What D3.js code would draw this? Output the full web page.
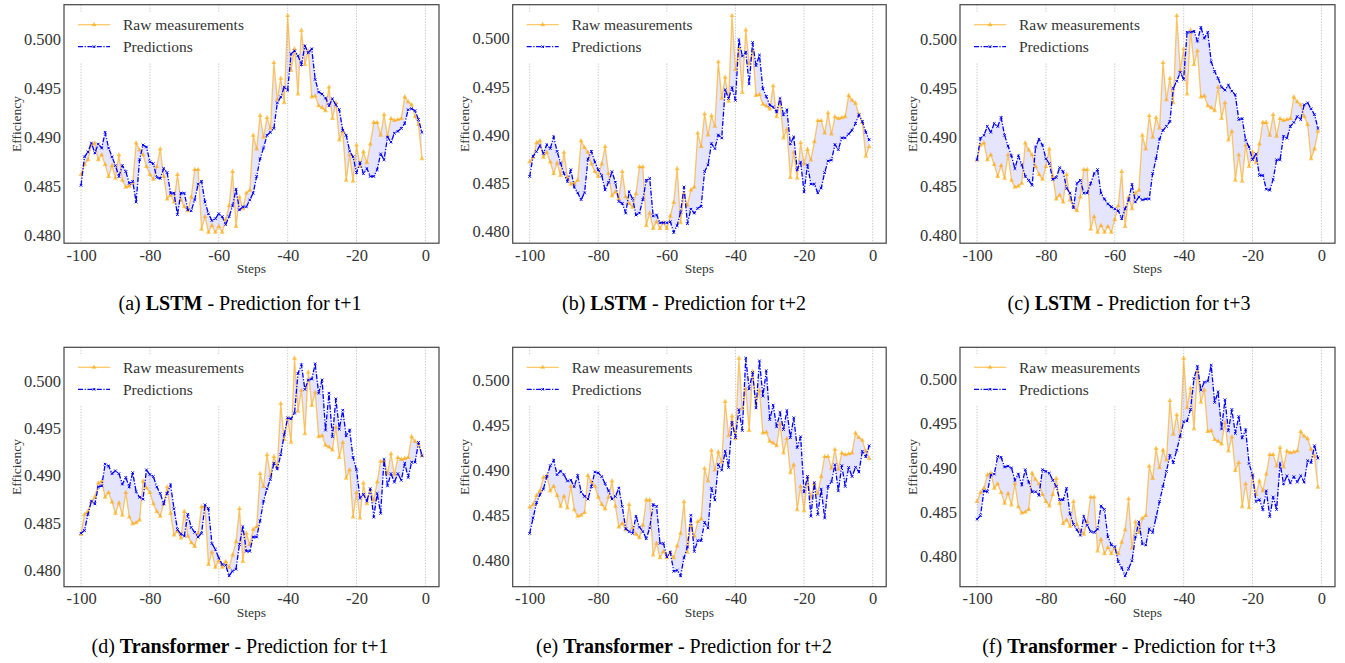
<!DOCTYPE html>
<html><head><meta charset="utf-8">
<script src="https://cdn.jsdelivr.net/npm/d3@7"></script>
<style>
body{margin:0;background:#fff}
svg{display:block}
text{font-family:"Liberation Serif","Times New Roman",serif}
</style>
</head><body>
<svg id="chart" width="1345" height="663"></svg>
<script>
// ---------------- DATA ----------------
const steps = d3.range(-100, 0);          // -100 .. -1
const rawTimes = d3.range(-102, 2);       // -102 .. 1
const rawSeries = [
  0.4838, 0.4859,
  0.4862, 0.4872, 0.4877, 0.4892, 0.4894, 0.4877, 0.4882, 0.4872, 0.4860, 0.4871,
  0.4858, 0.4882, 0.4856, 0.4849, 0.4850, 0.4853, 0.4894, 0.4887, 0.4882, 0.4870,
  0.4862, 0.4857, 0.4870, 0.4888, 0.4860, 0.4837, 0.4841, 0.4834, 0.4862, 0.4836,
  0.4829, 0.4825, 0.4839, 0.4867, 0.4867, 0.4806, 0.4819, 0.4803, 0.4810, 0.4803,
  0.4809, 0.4803, 0.4816, 0.4830, 0.4865, 0.4809, 0.4839, 0.4827, 0.4843, 0.4846,
  0.4902, 0.4888, 0.4922, 0.4900, 0.4920, 0.4909, 0.4976, 0.4938, 0.4960, 0.4935,
  0.5024, 0.4968, 0.4990, 0.4944, 0.5009, 0.4974, 0.4988, 0.4941, 0.4942, 0.4932,
  0.4930, 0.4927, 0.4951, 0.4919, 0.4935, 0.4897, 0.4906, 0.4856, 0.4882, 0.4855,
  0.4892, 0.4870, 0.4885, 0.4874, 0.4893, 0.4915, 0.4915, 0.4902, 0.4923, 0.4901,
  0.4919, 0.4917, 0.4918, 0.4919, 0.4941, 0.4936, 0.4933, 0.4921, 0.4913, 0.4878,
  0.4888, 0.4906
];
const predLSTM1 = [
  0.4851, 0.4880, 0.4885, 0.4894, 0.4884, 0.4893, 0.4889, 0.4905, 0.4889, 0.4880,
  0.4871, 0.4860, 0.4871, 0.4865, 0.4853, 0.4855, 0.4834, 0.4877, 0.4892, 0.4890,
  0.4875, 0.4873, 0.4859, 0.4858, 0.4868, 0.4864, 0.4843, 0.4843, 0.4821, 0.4843,
  0.4843, 0.4826, 0.4825, 0.4836, 0.4852, 0.4855, 0.4834, 0.4822, 0.4815, 0.4817,
  0.4822, 0.4819, 0.4811, 0.4819, 0.4830, 0.4847, 0.4826, 0.4829, 0.4829, 0.4836,
  0.4843, 0.4860, 0.4878, 0.4889, 0.4902, 0.4905, 0.4909, 0.4935, 0.4941, 0.4951,
  0.4948, 0.4985, 0.4988, 0.4983, 0.4974, 0.4993, 0.4986, 0.4990, 0.4959, 0.4946,
  0.4944, 0.4940, 0.4932, 0.4939, 0.4933, 0.4928, 0.4907, 0.4902, 0.4886, 0.4880,
  0.4864, 0.4874, 0.4863, 0.4868, 0.4860, 0.4860, 0.4867, 0.4883, 0.4877, 0.4900,
  0.4895, 0.4904, 0.4906, 0.4909, 0.4914, 0.4928, 0.4929, 0.4927, 0.4918, 0.4905
];
const predLSTM2 = [
  0.4857, 0.4878, 0.4883, 0.4889, 0.4881, 0.4890, 0.4886, 0.4898, 0.4883, 0.4871,
  0.4860, 0.4852, 0.4864, 0.4846, 0.4840, 0.4833, 0.4840, 0.4875, 0.4883, 0.4872,
  0.4864, 0.4858, 0.4843, 0.4851, 0.4862, 0.4851, 0.4831, 0.4829, 0.4819, 0.4841,
  0.4834, 0.4817, 0.4819, 0.4833, 0.4853, 0.4855, 0.4816, 0.4817, 0.4809, 0.4809,
  0.4809, 0.4810, 0.4799, 0.4806, 0.4820, 0.4846, 0.4808, 0.4823, 0.4819, 0.4824,
  0.4826, 0.4862, 0.4869, 0.4891, 0.4886, 0.4900, 0.4897, 0.4947, 0.4938, 0.4949,
  0.4936, 0.4999, 0.4982, 0.4986, 0.4953, 0.4996, 0.4972, 0.4983, 0.4948, 0.4940,
  0.4931, 0.4929, 0.4924, 0.4938, 0.4921, 0.4926, 0.4891, 0.4898, 0.4864, 0.4872,
  0.4841, 0.4869, 0.4849, 0.4849, 0.4840, 0.4845, 0.4861, 0.4873, 0.4874, 0.4890,
  0.4885, 0.4897, 0.4897, 0.4901, 0.4905, 0.4912, 0.4921, 0.4914, 0.4903, 0.4895
];
const predLSTM3 = [
  0.4877, 0.4899, 0.4902, 0.4911, 0.4905, 0.4914, 0.4911, 0.4920, 0.4902, 0.4891,
  0.4881, 0.4868, 0.4881, 0.4872, 0.4860, 0.4856, 0.4851, 0.4890, 0.4898, 0.4892,
  0.4878, 0.4873, 0.4857, 0.4859, 0.4869, 0.4865, 0.4848, 0.4843, 0.4828, 0.4853,
  0.4856, 0.4843, 0.4843, 0.4853, 0.4863, 0.4867, 0.4843, 0.4837, 0.4832, 0.4829,
  0.4827, 0.4825, 0.4817, 0.4827, 0.4836, 0.4852, 0.4834, 0.4839, 0.4836, 0.4837,
  0.4837, 0.4863, 0.4878, 0.4898, 0.4907, 0.4911, 0.4916, 0.4950, 0.4957, 0.4966,
  0.4959, 0.5007, 0.5007, 0.5008, 0.4998, 0.5012, 0.5001, 0.5007, 0.4977, 0.4967,
  0.4960, 0.4951, 0.4948, 0.4953, 0.4947, 0.4943, 0.4918, 0.4919, 0.4897, 0.4890,
  0.4877, 0.4883, 0.4861, 0.4861, 0.4847, 0.4846, 0.4857, 0.4877, 0.4877, 0.4901,
  0.4899, 0.4911, 0.4915, 0.4921, 0.4918, 0.4933, 0.4935, 0.4929, 0.4923, 0.4909
];
const predTrans1 = [
  0.4839, 0.4842, 0.4859, 0.4873, 0.4870, 0.4888, 0.4889, 0.4912, 0.4910, 0.4902,
  0.4905, 0.4902, 0.4891, 0.4898, 0.4888, 0.4903, 0.4883, 0.4877, 0.4875, 0.4906,
  0.4901, 0.4899, 0.4888, 0.4881, 0.4870, 0.4881, 0.4890, 0.4865, 0.4843, 0.4838,
  0.4836, 0.4859, 0.4845, 0.4840, 0.4835, 0.4839, 0.4869, 0.4865, 0.4828, 0.4822,
  0.4813, 0.4806, 0.4805, 0.4794, 0.4799, 0.4801, 0.4827, 0.4846, 0.4820, 0.4820,
  0.4835, 0.4835, 0.4852, 0.4873, 0.4886, 0.4896, 0.4913, 0.4907, 0.4922, 0.4943,
  0.4961, 0.4960, 0.4966, 0.5008, 0.5017, 0.4991, 0.5001, 0.5002, 0.5018, 0.4987,
  0.5001, 0.4948, 0.4987, 0.4941, 0.4981, 0.4949, 0.4969, 0.4942, 0.4948, 0.4919,
  0.4906, 0.4876, 0.4880, 0.4873, 0.4886, 0.4856, 0.4881, 0.4860, 0.4917, 0.4889,
  0.4902, 0.4893, 0.4902, 0.4895, 0.4913, 0.4898, 0.4914, 0.4914, 0.4935, 0.4921
];
const predTrans2 = [
  0.4830, 0.4847, 0.4864, 0.4873, 0.4879, 0.4893, 0.4905, 0.4911, 0.4895, 0.4899,
  0.4895, 0.4888, 0.4889, 0.4882, 0.4894, 0.4876, 0.4871, 0.4868, 0.4882, 0.4898,
  0.4897, 0.4893, 0.4885, 0.4877, 0.4868, 0.4871, 0.4880, 0.4860, 0.4835, 0.4832,
  0.4830, 0.4849, 0.4837, 0.4832, 0.4824, 0.4836, 0.4862, 0.4860, 0.4819, 0.4819,
  0.4804, 0.4809, 0.4788, 0.4789, 0.4783, 0.4803, 0.4815, 0.4850, 0.4810, 0.4822,
  0.4822, 0.4842, 0.4836, 0.4880, 0.4867, 0.4906, 0.4900, 0.4921, 0.4903, 0.4953,
  0.4936, 0.4967, 0.4944, 0.5024, 0.4990, 0.5008, 0.4969, 0.5021, 0.4982, 0.5010,
  0.4956, 0.4972, 0.4948, 0.4964, 0.4945, 0.4966, 0.4936, 0.4958, 0.4925, 0.4937,
  0.4876, 0.4893, 0.4849, 0.4886, 0.4851, 0.4879, 0.4847, 0.4882, 0.4887, 0.4906,
  0.4877, 0.4905, 0.4882, 0.4903, 0.4893, 0.4903, 0.4898, 0.4921, 0.4915, 0.4927
];
const predTrans3 = [
  0.4842, 0.4846, 0.4874, 0.4873, 0.4892, 0.4893, 0.4913, 0.4912, 0.4901, 0.4902,
  0.4900, 0.4886, 0.4893, 0.4881, 0.4898, 0.4884, 0.4873, 0.4873, 0.4869, 0.4898,
  0.4896, 0.4894, 0.4886, 0.4879, 0.4864, 0.4864, 0.4877, 0.4848, 0.4836, 0.4830,
  0.4824, 0.4845, 0.4835, 0.4828, 0.4827, 0.4831, 0.4857, 0.4853, 0.4822, 0.4813,
  0.4811, 0.4794, 0.4787, 0.4778, 0.4786, 0.4795, 0.4822, 0.4839, 0.4814, 0.4813,
  0.4831, 0.4827, 0.4844, 0.4862, 0.4879, 0.4896, 0.4914, 0.4906, 0.4920, 0.4936,
  0.4952, 0.4953, 0.4966, 0.5001, 0.5015, 0.4988, 0.4997, 0.4998, 0.5016, 0.4974,
  0.4986, 0.4944, 0.4977, 0.4942, 0.4966, 0.4939, 0.4958, 0.4934, 0.4943, 0.4905,
  0.4892, 0.4862, 0.4864, 0.4853, 0.4874, 0.4845, 0.4867, 0.4853, 0.4905, 0.4882,
  0.4891, 0.4883, 0.4890, 0.4884, 0.4891, 0.4884, 0.4908, 0.4906, 0.4925, 0.4911
];
const xTicks = [-100, -80, -60, -40, -20, 0];
const yTicks = [0.480, 0.485, 0.490, 0.495, 0.500];
const letters = ["(a)", "(b)", "(c)", "(d)", "(e)", "(f)"];
const models = ["LSTM", "LSTM", "LSTM", "Transformer", "Transformer", "Transformer"];
const horizons = ["t+1", "t+2", "t+3", "t+1", "t+2", "t+3"];
const rawShift = [0, 1, 2, -2, -1, 0];   // alignment of raw measurements per panel
const predictions = [predLSTM1, predLSTM2, predLSTM3, predTrans1, predTrans2, predTrans3];
const legendLabels = ["Raw measurements", "Predictions"];

// ---------------- LAYOUT ----------------
const colLeft = [64, 512.7, 960];
const colWidth = [375, 373.5, 375];
const rowTop = [4.7, 347.3];
const rowHeight = [238.5, 239.4];
const titleCenter = [240, 684, 1129];
const titleBase = [310, 653];

const ORANGE = "#FFA500", BLUE = "#0000FF";
const svg = d3.select("#chart");

function xMark(s) { return `M${-s},${-s}L${s},${s}M${-s},${s}L${s},${-s}`; }

predictions.forEach((pred, i) => {
  const col = i % 3, row = Math.floor(i / 3);
  const L = colLeft[col], T = rowTop[row], W = colWidth[col], H = rowHeight[row];
  const raw = steps.map(s => rawSeries[rawTimes.indexOf(s + rawShift[i])]);
  const [mn, mx] = d3.extent(raw.concat(pred));
  const pad = (mx - mn) * 0.05;
  const xr = 99 * 0.05;
  const x = d3.scaleLinear().domain([steps[0] - xr, steps[steps.length - 1] + xr]).range([L, L + W]);
  const y = d3.scaleLinear().domain([mn - pad, mx + pad]).range([T + H, T]);
  const g = svg.append("g");

  // grid
  g.selectAll("line.grid").data(xTicks).join("line")
    .attr("x1", d => x(d)).attr("x2", d => x(d)).attr("y1", T).attr("y2", T + H)
    .attr("stroke", "#b5b5b5").attr("stroke-width", 0.8).attr("stroke-dasharray", "1.2,1.6");

  // fill between
  const area = d3.area().x((d, j) => x(steps[j])).y0((d, j) => y(raw[j])).y1(d => y(d));
  g.append("path").datum(pred).attr("d", area).attr("fill", BLUE).attr("fill-opacity", 0.1);

  const line = d3.line().x((d, j) => x(steps[j])).y(d => y(d));
  // raw
  g.append("path").datum(raw).attr("d", line).attr("fill", "none")
    .attr("stroke", ORANGE).attr("stroke-opacity", 0.6).attr("stroke-width", 1.3);
  g.selectAll("path.tri").data(raw).join("path").attr("class", "tri")
    .attr("d", d3.symbol(d3.symbolTriangle, 11))
    .attr("transform", (d, j) => `translate(${x(steps[j])},${y(d)})`)
    .attr("fill", ORANGE).attr("fill-opacity", 0.6);
  // predictions
  g.append("path").datum(pred).attr("d", line).attr("fill", "none")
    .attr("stroke", BLUE).attr("stroke-width", 1.3).attr("stroke-dasharray", "5,1.6,1.2,1.6");
  g.selectAll("path.xm").data(pred).join("path").attr("class", "xm")
    .attr("d", xMark(1.3))
    .attr("transform", (d, j) => `translate(${x(steps[j])},${y(d)})`)
    .attr("stroke", BLUE).attr("stroke-width", 1).attr("fill", "none");

  // axes
  const ax = g.append("g").attr("transform", `translate(0,${T + H})`)
    .call(d3.axisBottom(x).tickValues(xTicks).tickSize(0).tickPadding(6).tickFormat(d => String(d)));
  ax.select(".domain").remove();
  ax.selectAll("text").attr("font-size", 16.5).attr("fill", "#333")
    .attr("font-family", '"Liberation Serif",serif');
  const ay = g.append("g").attr("transform", `translate(${L},0)`)
    .call(d3.axisLeft(y).tickValues(yTicks).tickSize(0).tickPadding(3).tickFormat(d3.format(".3f")));
  ay.select(".domain").remove();
  ay.selectAll("text").attr("font-size", 16.5).attr("fill", "#333")
    .attr("font-family", '"Liberation Serif",serif');

  // frame
  g.append("rect").attr("x", L).attr("y", T).attr("width", W).attr("height", H)
    .attr("fill", "none").attr("stroke", "#444").attr("stroke-width", 1.2);

  // axis labels
  g.append("text").attr("x", L + W / 2).attr("y", T + H + 30).attr("text-anchor", "middle")
    .attr("font-size", 13.5).attr("fill", "#333").text("Steps");
  g.append("text").attr("transform", `translate(${L - 43.5},${T + H / 2}) rotate(-90)`)
    .attr("text-anchor", "middle").attr("font-size", 13.5).attr("fill", "#333").text("Efficiency");

  // legend
  const lg = g.append("g");
  lg.append("rect").attr("x", L + 5).attr("y", T + 8).attr("width", 182).attr("height", 50)
    .attr("fill", "#fff");
  const rows = [T + 20, T + 42];
  lg.append("line").attr("x1", L + 14).attr("x2", L + 46).attr("y1", rows[0]).attr("y2", rows[0])
    .attr("stroke", ORANGE).attr("stroke-opacity", 0.6).attr("stroke-width", 1.3);
  lg.append("path").attr("d", d3.symbol(d3.symbolTriangle, 11)).attr("transform", `translate(${L + 30},${rows[0]})`)
    .attr("fill", ORANGE).attr("fill-opacity", 0.6);
  lg.append("line").attr("x1", L + 14).attr("x2", L + 46).attr("y1", rows[1]).attr("y2", rows[1])
    .attr("stroke", BLUE).attr("stroke-width", 1.3).attr("stroke-dasharray", "5,1.6,1.2,1.6");
  lg.append("path").attr("d", xMark(1.3)).attr("transform", `translate(${L + 30},${rows[1]})`)
    .attr("stroke", BLUE).attr("stroke-width", 1).attr("fill", "none");
  legendLabels.forEach((t, k) => {
    lg.append("text").attr("x", L + 59).attr("y", rows[k] + 5.5).attr("font-size", 15.5)
      .attr("fill", "#333").text(t);
  });

  // caption
  const cap = svg.append("text").attr("x", titleCenter[col]).attr("y", titleBase[row])
    .attr("text-anchor", "middle").attr("font-size", 20).attr("fill", "#000");
  cap.append("tspan").text(letters[i] + " ");
  cap.append("tspan").attr("font-weight", "bold").text(models[i]);
  cap.append("tspan").text(" - Prediction for " + horizons[i]);
});
</script>
</body></html>
